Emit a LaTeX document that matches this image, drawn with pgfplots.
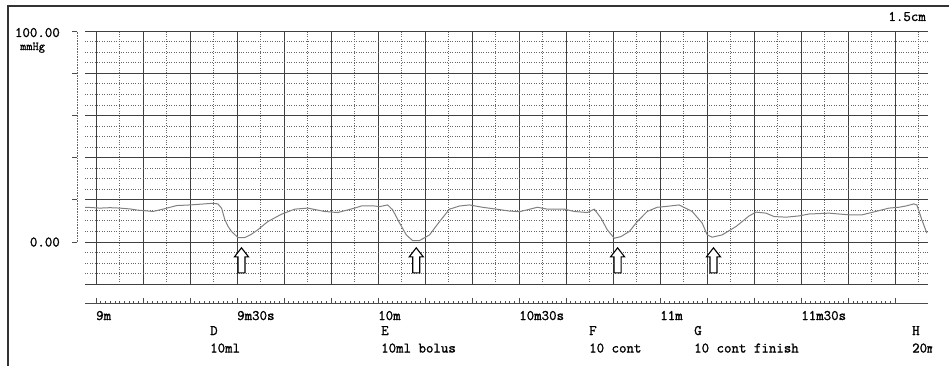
\documentclass[border=0pt]{standalone}
\usepackage{fontspec}
\newfontfamily\monob{Latin Modern Mono}[FakeBold=1.3]
\usepackage{pgfplots}
\pgfplotsset{compat=1.18}
\pgfdeclareplotmark{hollowup}{%
  \pgfpathmoveto{\pgfqpoint{0pt}{12.5pt}}%
  \pgfpathlineto{\pgfqpoint{7pt}{3.5pt}}%
  \pgfpathlineto{\pgfqpoint{3.5pt}{3.5pt}}%
  \pgfpathlineto{\pgfqpoint{3.5pt}{-12.5pt}}%
  \pgfpathlineto{\pgfqpoint{-3.5pt}{-12.5pt}}%
  \pgfpathlineto{\pgfqpoint{-3.5pt}{3.5pt}}%
  \pgfpathlineto{\pgfqpoint{-7pt}{3.5pt}}%
  \pgfpathclose
  \pgfusepathqfillstroke}
\newcommand{\tfA}{\monob\fontsize{14.5}{16}\selectfont}
\newcommand{\tfB}{\monob\fontsize{12}{13}\selectfont}
\begin{document}
\begin{tikzpicture}
\path[use as bounding box] (0pt,0pt) rectangle (949pt,365pt);
\begin{scope}
\clip (0pt,0pt) rectangle (949pt,365pt);
\draw[line width=1.2pt, black!80] (8pt,-5pt) -- (8pt,359pt) -- (960pt,359pt);
\begin{axis}[at={(85pt,81pt)}, anchor=south west, scale only axis,
  width=843pt, height=253pt,
  xmin=-2.34, xmax=177.0, ymin=-20, ymax=100,
  axis line style={draw=none}, tick style={draw=none},
  xtick={0,10,...,170}, minor xtick={5,15,...,175},
  ytick={-20,0,...,100},
  minor ytick={-15,-10,-5,5,10,15,25,30,35,45,50,55,65,70,75,85,90,95},
  xticklabels={}, yticklabels={},
  grid=both,
  major grid style={black!75, line width=0.6pt},
  minor grid style={black!60, dotted, line width=0.55pt}]
\addplot[black!50, line width=1pt] table {
t v
-2.34 16.3
-1.98 16.4
0.85 16.0
3.0 16.2
5.10 16.0
7.22 15.6
9.0 15.0
10.77 14.7
12.11 14.4
14.23 15.5
17.14 17.2
19.97 17.5
22.5 17.9
24.86 18.3
25.92 18.0
26.71 16.0
27.41 10.5
28.1 7.3
28.83 4.9
30.23 2.0
31.65 2.0
33.0 3.5
34.42 5.7
36.54 9.6
39.45 13.1
42.28 15.5
45.04 16.0
48.65 14.4
51.41 13.9
55.02 16.0
56.45 17.0
59.27 17.0
60.34 16.7
62.04 17.5
63.10 15.2
64.59 8.9
66.01 3.3
67.35 0.6
68.83 0.6
70.96 3.3
73.08 9.6
75.21 15.5
77.33 17.0
79.46 17.5
82.22 16.4
85.19 15.5
87.96 14.6
90.08 14.3
91.78 15.2
93.90 16.4
96.03 15.5
99.64 15.5
101.76 14.4
104.53 13.9
106.01 15.5
107.44 11.2
108.77 5.7
110.26 1.7
111.68 2.5
113.45 4.9
115.15 9.6
117.27 14.4
119.40 16.4
120.88 16.7
124.07 17.5
126.83 14.4
128.96 8.9
130.02 3.3
131.08 2.2
133.21 3.3
136.18 7.3
138.94 12.3
140.43 14.1
142.55 13.6
144.25 12.0
146.80 11.7
149.57 12.3
151.69 13.2
155.94 13.6
160.19 12.8
162.95 12.8
164.44 13.6
166.57 14.8
168.69 16.0
170.81 16.4
172.30 17.0
173.99 18.0
174.63 17.5
175.70 10.4
176.76 4.1
};
\addplot[only marks, mark=hollowup, mark options={fill=white, draw=black, line width=1.1pt}] coordinates {
(30.95,-8.77) (68.13,-8.77) (110.96,-8.77) (131.36,-8.77)};
\end{axis}
\begin{axis}[at={(85pt,62pt)}, anchor=south west, scale only axis,
  width=843pt, height=5pt,
  xmin=-2.34, xmax=177.0, ymin=0, ymax=1,
  hide y axis, axis x line=bottom,
  axis line style={-, black!70, line width=0.6pt},
  xtick={0,10,...,170},
  xticklabels={9m,,,9m30s,,,10m,,,10m30s,,,11m,,,11m30s,,},
  minor x tick num=9, tick align=inside,
  major tick length=5pt, minor tick length=2pt,
  tick style={black!70, line width=0.6pt},
  xticklabel style={anchor=base west, inner sep=0pt, yshift=-17pt, font=\tfA}]
\addplot[draw=none] coordinates {(0,0.5)};
\end{axis}
\begin{scope}[x=1pt,y=1pt]
\draw[black!60, densely dotted, line width=0.6pt] (77,123.2) -- (77,334);
\foreach \y in {123.2,165.4,207.5,249.7,291.8,334}
  \draw[black!70, line width=0.6pt] (72,\y) -- (77.3,\y);
\node[anchor=base east, inner sep=0pt, font=\tfA] at (60,328) {100.00};
\node[anchor=base west, inner sep=0pt, font=\tfB] at (20,315) {mmHg};
\node[anchor=base east, inner sep=0pt, font=\tfA] at (60,118.5) {0.00};
\node[anchor=base east, inner sep=0pt, font=\tfA] at (926,344) {1.5cm};
\foreach \x/\a/\b in {210/D/10ml, 381/E/10ml bolus, 589/F/10 cont, 694/G/10 cont finish}{
  \node[anchor=base west, inner sep=0pt, font=\tfA] at (\x,30) {\a};
  \node[anchor=base west, inner sep=0pt, font=\tfA] at (\x,12.5) {\b};
}
\node[anchor=base west, inner sep=0pt, font=\tfA] at (912,30) {H};
\begin{scope}
\clip (900,0) rectangle (932,28);
\node[anchor=base west, inner sep=0pt, font=\tfA] at (912,12.5) {20ml};
\end{scope}
\end{scope}
\end{scope}
\end{tikzpicture}
\end{document}
